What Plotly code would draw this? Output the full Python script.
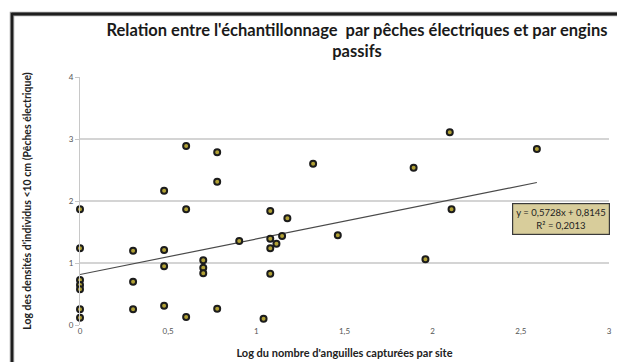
import plotly.graph_objects as go

# Data
x_vals = [0, 0, 0, 0, 0, 0, 0,
          0.301, 0.301, 0.301,
          0.477, 0.477, 0.477, 0.477,
          0.602, 0.602, 0.602,
          0.699, 0.699, 0.699,
          0.778, 0.778, 0.778,
          0.903, 1.041,
          1.079, 1.079, 1.079, 1.079,
          1.114, 1.146, 1.176, 1.322,
          1.462, 1.892, 1.959, 1.991, 2.097, 2.107, 2.591]
y_vals = [1.866, 1.237, 0.726, 0.645, 0.575, 0.253, 0.118,
          1.199, 0.699, 0.253,
          2.167, 1.210, 0.946, 0.312,
          2.887, 1.866, 0.129,
          1.043, 0.925, 0.833,
          2.785, 2.312, 0.263,
          1.355, 0.102,
          1.839, 1.392, 1.237, 0.828,
          1.312, 1.435, 1.720, 2.600,
          1.446, 2.538, 1.059, -0.01, 3.108, 1.866, 2.839]
slope = 0.5728
intercept = 0.8145
r2 = 0.2013
x_ticks = [0, 0.5, 1, 1.5, 2, 2.5, 3]
y_ticks = [0, 1, 2, 3, 4]

title_text = "Relation entre l'échantillonnage  par pêches électriques et par engins<br>passifs"
x_title = "Log du nombre d'anguilles capturées par site"
y_title = "Log des densités d'individus <10 cm (Pêches électrique)"
eq_text = "y = 0,5728x + 0,8145<br>R² = 0,2013"

x_min, x_max = min(x_vals), max(x_vals)
trend_x = [x_min, x_max]
trend_y = [slope * v + intercept for v in trend_x]

fig = go.Figure()
fig.add_trace(go.Scatter(
    x=trend_x, y=trend_y, mode="lines",
    line=dict(color="#4a4a4a", width=1.2),
    hoverinfo="skip", showlegend=False))
fig.add_trace(go.Scatter(
    x=x_vals, y=y_vals, mode="markers",
    marker=dict(size=6, color="#b0a035", line=dict(color="#1c1c1c", width=2)),
    cliponaxis=False, showlegend=False))

font_family = "Lato, Open Sans, Liberation Sans, sans-serif"

# frame in window pixels (page body adds an 8px offset)
frame_left, frame_right, frame_top, frame_bottom = 12, 622, 14, 372

def px_to_paper_x(px):
    return (px - 80) / 529

def px_to_paper_y(py):
    return (325 - py) / 248

fig.update_layout(
    width=625, height=362,
    margin=dict(l=72, r=24, t=69, b=45),
    paper_bgcolor="white", plot_bgcolor="white",
    separators=", ",
    font=dict(family=font_family, color="#333"),
    title=dict(text="<b>" + title_text + "</b>", x=349 / 625, xanchor="center",
               xref="container", yref="container",
               y=1 - 28 / 362, yanchor="top",
               font=dict(size=16.5, color="#1a1a1a", family=font_family)),
    xaxis=dict(range=[0, 3], tickvals=x_ticks, showgrid=False, zeroline=False,
               showline=False, ticks="", tickfont=dict(size=8, color="#555"),
               automargin=False,
               title=dict(text="<b>" + x_title + "</b>", standoff=14,
                          font=dict(size=11, color="#222"))),
    yaxis=dict(range=[0, 4], tickvals=y_ticks, showgrid=True, gridcolor="#d4d4d4",
               gridwidth=2, zeroline=False, showline=True, linecolor="#c8c8c8",
               linewidth=1, ticks="outside", ticklen=4, tickcolor="#c8c8c8",
               tickfont=dict(size=8, color="#555"), automargin=False,
               title=dict(text="<b>" + y_title + "</b>", standoff=35,
                          font=dict(size=10.5, color="#222"))),
    shapes=[
        dict(type="rect", xref="paper", yref="paper",
             x0=px_to_paper_x(frame_left), x1=px_to_paper_x(frame_right),
             y0=px_to_paper_y(frame_bottom), y1=px_to_paper_y(frame_top),
             line=dict(color="#9a9a9a", width=4.5), fillcolor="rgba(0,0,0,0)",
             layer="above"),
        dict(type="rect", xref="paper", yref="paper",
             x0=px_to_paper_x(frame_left), x1=px_to_paper_x(frame_right),
             y0=px_to_paper_y(frame_bottom), y1=px_to_paper_y(frame_top),
             line=dict(color="#1e1e1e", width=2.5), fillcolor="rgba(0,0,0,0)",
             layer="above"),
        dict(type="line", xref="paper", yref="paper",
             x0=px_to_paper_x(frame_left), x1=px_to_paper_x(frame_right),
             y0=px_to_paper_y(frame_top), y1=px_to_paper_y(frame_top),
             line=dict(color="#1e1e1e", width=2.5), layer="above"),
    ],
    annotations=[dict(text=eq_text, xref="paper", yref="paper",
                      x=px_to_paper_x(560.5), y=px_to_paper_y(219),
                      xanchor="center", yanchor="middle", showarrow=False,
                      align="center", bgcolor="#d8cd9b", bordercolor="#3a3a3a",
                      borderwidth=1.2, borderpad=3,
                      font=dict(size=9.5, color="#222", family=font_family))],
)

fig.write_html("out.html")
